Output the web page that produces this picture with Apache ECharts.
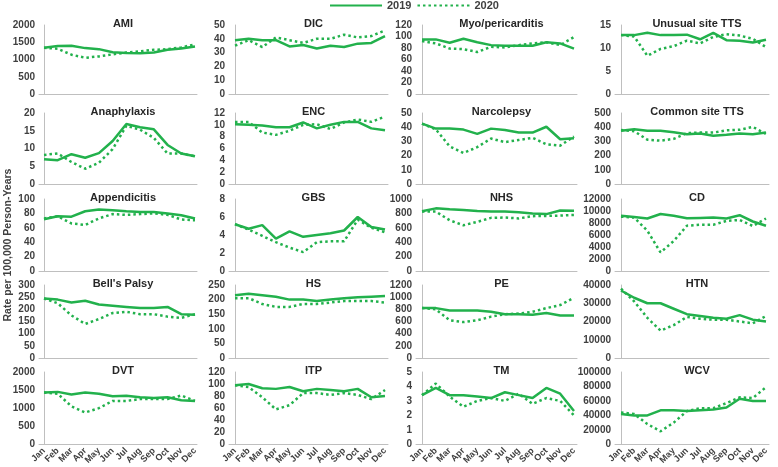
<!DOCTYPE html>
<html><head><meta charset="utf-8">
<script src="https://cdn.jsdelivr.net/npm/echarts@6/dist/echarts.min.js"></script>
<style>html,body{margin:0;padding:0;background:#fff}#c{width:778px;height:467px}</style>
</head><body><div id="c"></div>
<script>
const months = ['Jan','Feb','Mar','Apr','May','Jun','Jul','Aug','Sep','Oct','Nov','Dec'];
const titles = ['AMI','DIC','Myo/pericarditis','Unusual site TTS',
  'Anaphylaxis','ENC','Narcolepsy','Common site TTS',
  'Appendicitis','GBS','NHS','CD',
  "Bell's Palsy",'HS','PE','HTN',
  'DVT','ITP','TM','WCV'];
const yMax  = [2000,50,120,15, 20,12,50,500, 100,8,1000,12000, 300,250,1200,40000, 2000,120,5,100000];
const yStep = [500,10,20,5, 5,2,10,100, 20,2,200,2000, 50,50,200,10000, 500,20,1,20000];

const ami2019 = [1340,1390,1400,1330,1300,1210,1190,1180,1200,1280,1320,1380];
const ami2020 = [1340,1310,1140,1050,1090,1150,1200,1240,1280,1300,1350,1440];
const dic2019 = [39,40,39,39,34.5,35.5,33,35,34,36.5,37,42];
const dic2020 = [35,39,34,41,39,37,40,40,43,41,42,46];
const myo2019 = [95,95,89,96,90,85,84,84,84,90,88,79];
const myo2020 = [92,88,79,78,73,82,81,85,88,90,85,99];
const uts2019 = [12.8,12.8,13.3,12.8,12.8,12.9,11.9,13.3,11.7,11.6,11.2,11.8];
const uts2020 = [12.8,12.5,8.3,9.8,10.4,11.6,11.0,12.4,13.0,12.7,12.0,10.2];
const ana2019 = [7.0,6.7,8.4,7.4,8.7,12.1,16.9,16.0,15.4,11.0,8.6,7.8];
const ana2020 = [8.2,8.6,6.2,4.3,6.0,9.8,16.4,15.3,13.0,8.6,8.6,7.8];
const enc2019 = [10.1,10.0,9.9,9.6,9.6,10.4,9.4,10.0,10.5,10.5,9.4,9.1];
const enc2020 = [10.5,10.5,8.7,8.3,9.0,10.0,10.1,9.3,10.4,10.9,10.5,11.4];
const nar2019 = [42.5,39,39,38.3,35.3,39,38,36.2,36.2,40.3,31.5,32.2];
const nar2020 = [42.5,38.5,26.5,21.8,26,32,29.5,31,32.5,28,27,33.5];
const cts2019 = [375,385,375,375,365,350,355,340,347,355,350,362];
const cts2020 = [380,372,312,305,318,358,362,362,378,382,402,352];
const app2019 = [72,76,75.5,83,85.5,84.5,83,82,82,80,77.5,73];
const app2020 = [73,76,66,64,73,79,78,79,80,78,71.5,70.5];
const gbs2019 = [5.2,4.7,5.1,3.6,4.4,3.8,4.0,4.2,4.5,6.0,4.9,4.6];
const gbs2020 = [5.2,4.6,3.9,3.2,2.6,2.1,3.2,3.3,3.3,5.7,4.8,4.3];
const nhs2019 = [830,870,858,848,835,825,825,815,800,790,840,838];
const nhs2020 = [825,825,705,635,683,738,743,730,762,765,770,778];
const cd2019  = [9200,9000,8750,9500,9200,8800,8850,8900,8750,9300,8250,7550];
const cd2020  = [9050,8900,6700,3100,5000,7550,7700,7700,8350,8500,7500,8750];
const bp2019  = [245,240,228,235,220,215,210,205,205,210,180,178];
const bp2020  = [245,225,175,140,160,185,190,180,180,170,165,180];
const hs2019  = [215,220,215,210,200,200,195,200,205,208,210,212];
const hs2020  = [205,205,185,175,175,185,185,190,195,195,195,190];
const pe2019  = [820,820,780,780,780,760,720,720,710,740,700,700];
const pe2020  = [820,800,620,590,620,680,720,730,760,820,870,990];
const htn2019 = [37000,33000,30000,30000,27000,24000,23000,22000,21500,23500,21000,20000];
const htn2020 = [38000,31000,22000,15000,18000,22500,21500,21000,21000,20000,19000,23000];
const dvt2019 = [1430,1450,1380,1430,1400,1330,1340,1300,1280,1300,1220,1200];
const dvt2020 = [1430,1400,1050,880,1000,1200,1200,1250,1250,1250,1350,1200];
const itp2019 = [98,100,93,92,95,88,92,90,88,92,78,80];
const itp2020 = [98,95,78,58,65,85,85,82,85,82,75,90];
const tm2019  = [3.4,3.9,3.4,3.4,3.3,3.2,3.6,3.4,3.2,3.9,3.5,2.3];
const tm2020  = [3.4,4.2,3.3,2.6,3.0,3.2,3.0,3.5,2.8,3.2,3.0,2.0];
const wcv2019 = [42000,40000,40000,47000,47000,46000,47000,48000,51000,63000,60000,60000];
const wcv2020 = [44000,42000,28000,18000,30000,46000,50000,50000,57000,65000,64000,79000];

const s2019 = [ami2019,dic2019,myo2019,uts2019,ana2019,enc2019,nar2019,cts2019,app2019,gbs2019,nhs2019,cd2019,bp2019,hs2019,pe2019,htn2019,dvt2019,itp2019,tm2019,wcv2019];
const s2020 = [ami2020,dic2020,myo2020,uts2020,ana2020,enc2020,nar2020,cts2020,app2020,gbs2020,nhs2020,cd2020,bp2020,hs2020,pe2020,htn2020,dvt2020,itp2020,tm2020,wcv2020];

// layout
const colL = [39,229,416,615], colR = [197,388,577,769];
const colJan = [44,235,422,621], colDec = [195,385,574,766];
const rowTop = [25,113,199,285,372], rowZero = [94,184,271,358,445];
const GREEN = '#22b14c', AX = '#bfbfbf', TXT = '#404040';

const grids=[], xAxes=[], yAxes=[], series=[], titleArr=[];
for (let i=0;i<20;i++){
  const r=Math.floor(i/4), c=i%4;
  const s=(colDec[c]-colJan[c])/11;
  const xmin=-(colJan[c]-colL[c])/s, xmax=11+(colR[c]-colDec[c])/s;
  grids.push({left:colL[c], width:colR[c]-colL[c], top:rowTop[r], height:rowZero[r]-rowTop[r], containLabel:false});
  xAxes.push({gridIndex:i, type:'value', min:xmin, max:xmax,
    axisLine:{show:true, onZero:false, lineStyle:{color:AX,width:1}}, axisTick:{show:false}, splitLine:{show:false},
    axisLabel:{show:r===4, customValues:[0,1,2,3,4,5,6,7,8,9,10,11], formatter:v=>months[Math.round(v)],
      rotate:45, margin:5, fontSize:9, fontWeight:'bold', color:TXT, fontFamily:'Liberation Sans, Arial'}});
  yAxes.push({gridIndex:i, type:'value', min:0, max:yMax[i], interval:yStep[i],
    axisLine:{show:true, lineStyle:{color:AX,width:1}}, axisTick:{show:false}, splitLine:{show:false},
    axisLabel:{margin:4, fontSize:10, fontWeight:'bold', color:TXT, fontFamily:'Liberation Sans, Arial', formatter:v=>String(v)}});
  titleArr.push({text:titles[i], left:(colL[c]+colR[c])/2, top:rowTop[r]-12, textAlign:'center',
    textStyle:{fontSize:11, fontWeight:'bold', color:'#262626', fontFamily:'Liberation Sans, Arial'}});
  series.push({name:'2019', type:'line', xAxisIndex:i, yAxisIndex:i, symbol:'none', showSymbol:false,
    data:s2019[i].map((v,k)=>[k,v]), lineStyle:{color:GREEN, width:2.5, type:'solid'}, itemStyle:{color:GREEN}, z:3});
  series.push({name:'2020', type:'line', xAxisIndex:i, yAxisIndex:i, symbol:'none', showSymbol:false,
    data:s2020[i].map((v,k)=>[k,v]), lineStyle:{color:GREEN, width:2.5, type:[2.5,3]}, itemStyle:{color:GREEN}, z:2});
}

const chart = echarts.init(document.getElementById('c'), null, {renderer:'canvas'});
chart.setOption({
  animation:false,
  backgroundColor:'#fff',
  title:titleArr,
  legend:{data:['2019','2020'], left:324, top:-5, itemWidth:52, itemHeight:10, itemGap:5,
    itemStyle:{opacity:0, color:'rgba(0,0,0,0)', borderWidth:0},
    textStyle:{fontSize:11, fontWeight:'bold', color:TXT, fontFamily:'Liberation Sans, Arial'}},
  grid:grids, xAxis:xAxes, yAxis:yAxes, series:series,
  graphic:[{type:'text', x:8, y:245, rotation:Math.PI/2,
    style:{text:'Rate per 100,000 Person-Years', align:'center', verticalAlign:'middle', textAlign:'center', textVerticalAlign:'middle',
      font:'bold 10.5px "Liberation Sans", Arial', fill:TXT}}]
});
</script>
</body></html>
